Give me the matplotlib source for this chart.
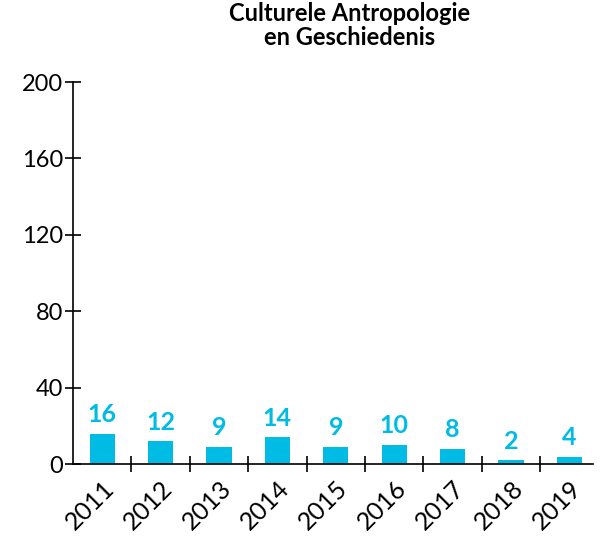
import matplotlib.pyplot as plt
import numpy as np

plt.rcParams['font.family'] = ['Lato', 'DejaVu Sans']

# data
years = ["2011", "2012", "2013", "2014", "2015", "2016", "2017", "2018", "2019"]
values = [16, 12, 9, 14, 9, 10, 8, 2, 4]
yticks = [0, 40, 80, 120, 160, 200]
kleur = "#00BBE4"

fig = plt.figure(figsize=(6.08, 5.36), dpi=100)
ax = fig.add_axes([0.12, 0.134, 0.855, 0.713])

x = np.arange(len(years))
ax.bar(x, values, width=0.43, color=kleur)

# waarden boven de staven
for xi, v in zip(x, values):
    ax.text(xi, v + 4, str(v), ha="center", va="bottom", color=kleur,
            fontsize=18, fontweight="bold")

ax.set_xlim(-0.5, 8.4)
ax.set_ylim(0, 200)

ax.set_yticks(yticks)
ax.set_yticklabels([str(t) for t in yticks], fontsize=17)
ax.tick_params(axis="y", direction="inout", length=12, width=1.2, pad=1)

# ticks tussen de staven, labels onder de staven
ax.set_xticks(x[:-1] + 0.5)
ax.set_xticklabels([])
ax.set_xticks(x, minor=True)
ax.set_xticklabels(years, minor=True, rotation=45, ha="right",
                   rotation_mode="anchor", fontsize=18)
ax.tick_params(axis="x", which="major", direction="inout", length=12, width=1.2)
ax.tick_params(axis="x", which="minor", length=0, pad=9)

for s in ["top", "right"]:
    ax.spines[s].set_visible(False)
ax.spines["left"].set_linewidth(1.2)
ax.spines["bottom"].set_linewidth(1.2)

fig.suptitle("Culturele Antropologie\nen Geschiedenis", x=0.575, y=0.997,
             fontsize=17, fontweight="bold", linespacing=1.05)

fig.savefig("out.png", dpi=100)
